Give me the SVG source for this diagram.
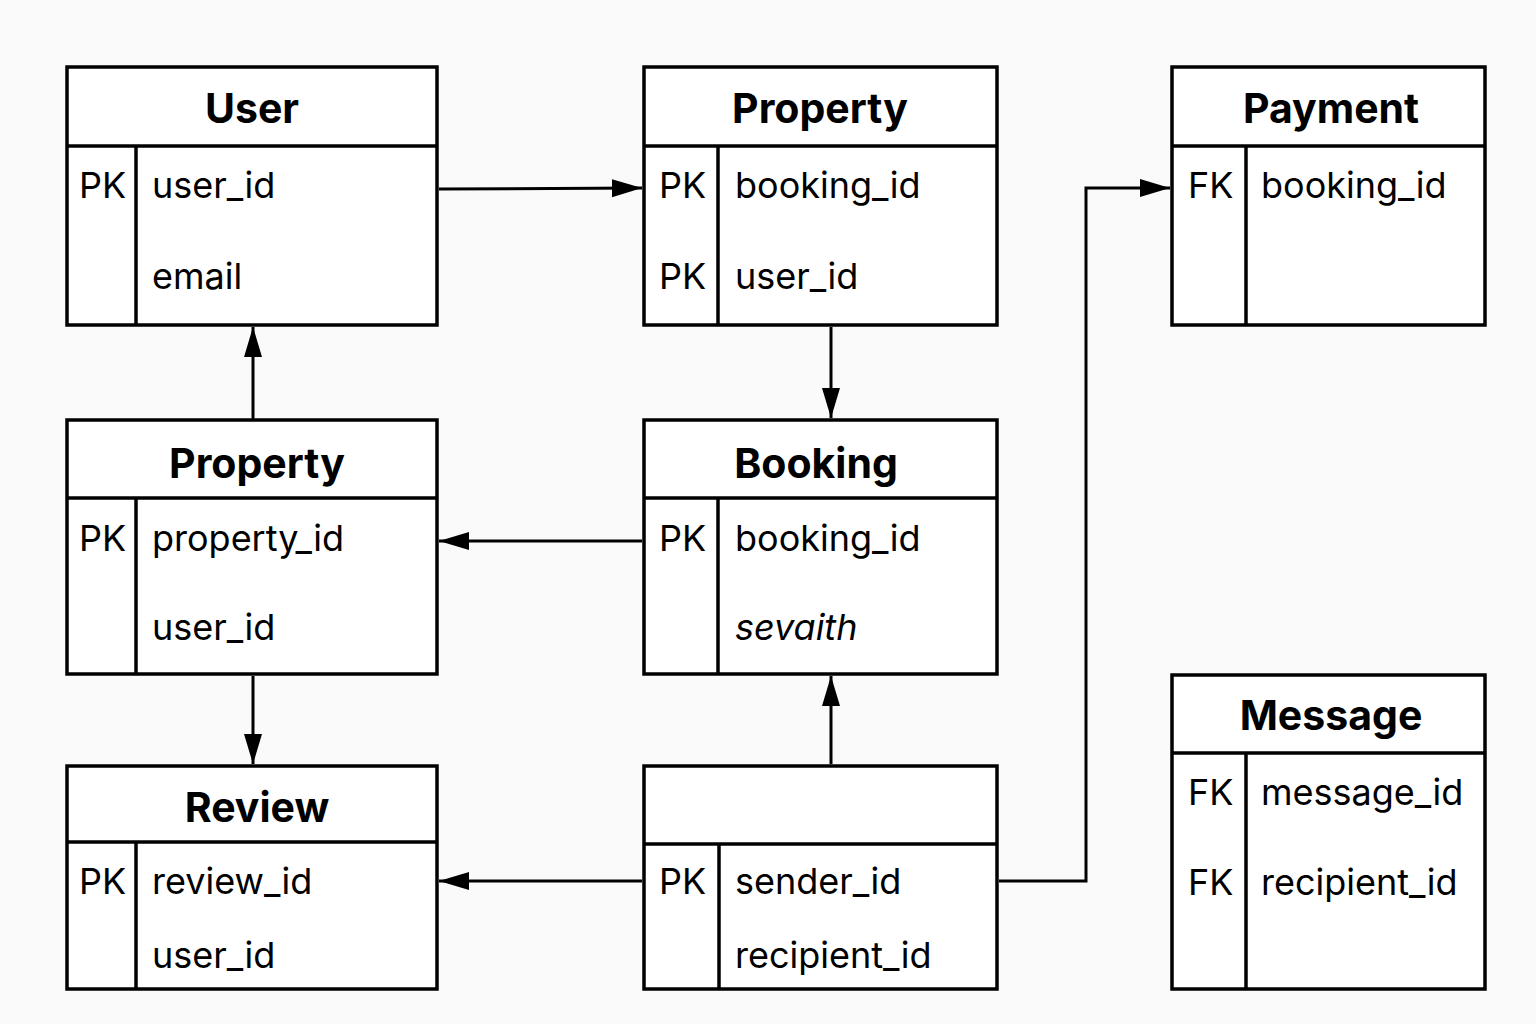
<svg xmlns="http://www.w3.org/2000/svg" width="1536" height="1024" viewBox="0 0 1536 1024">
<style>
.box{fill:#ffffff;stroke:#000;stroke-width:3.5}
.ln{stroke:#000;stroke-width:3.5;fill:none}
.t{font-family:Inter,"Liberation Sans",sans-serif;font-weight:700;font-size:41px;text-anchor:middle;fill:#000}
.f{font-family:Inter,"Liberation Sans",sans-serif;font-size:36px;fill:#000}
.c{stroke:#000;stroke-width:3;fill:none}
</style>
<defs>
<marker id="ah" viewBox="0 0 30 20" refX="30" refY="10" markerWidth="30" markerHeight="20" markerUnits="userSpaceOnUse" orient="auto">
<path d="M0,1 L30,10 L0,19 Z" fill="#000"/>
</marker>
</defs>
<rect width="1536" height="1024" fill="#fafafa"/>
<g id="user">
<rect class="box" x="67" y="67" width="370" height="258"/>
<line class="ln" x1="67" y1="146" x2="437" y2="146"/>
<line class="ln" x1="136" y1="146" x2="136" y2="325"/>
<text class="t" x="252" y="123">User</text>
<text class="f" x="79" y="198">PK</text>
<text class="f" x="152" y="198">user_id</text>
<text class="f" x="152" y="289">email</text>
</g>
<g id="property-top">
<rect class="box" x="644" y="67" width="353" height="258"/>
<line class="ln" x1="644" y1="146" x2="997" y2="146"/>
<line class="ln" x1="718" y1="146" x2="718" y2="325"/>
<text class="t" x="820" y="123">Property</text>
<text class="f" x="659" y="198">PK</text>
<text class="f" x="735" y="198">booking_id</text>
<text class="f" x="659" y="289">PK</text>
<text class="f" x="735" y="289">user_id</text>
</g>
<g id="payment">
<rect class="box" x="1172" y="67" width="313" height="258"/>
<line class="ln" x1="1172" y1="146" x2="1485" y2="146"/>
<line class="ln" x1="1246" y1="146" x2="1246" y2="325"/>
<text class="t" x="1331" y="123">Payment</text>
<text class="f" x="1188" y="198">FK</text>
<text class="f" x="1261" y="198">booking_id</text>
</g>
<g id="property-mid">
<rect class="box" x="67" y="420" width="370" height="254"/>
<line class="ln" x1="67" y1="498" x2="437" y2="498"/>
<line class="ln" x1="136" y1="498" x2="136" y2="674"/>
<text class="t" x="257" y="478">Property</text>
<text class="f" x="79" y="551">PK</text>
<text class="f" x="152" y="551">property_id</text>
<text class="f" x="152" y="640">user_id</text>
</g>
<g id="booking">
<rect class="box" x="644" y="420" width="353" height="254"/>
<line class="ln" x1="644" y1="498" x2="997" y2="498"/>
<line class="ln" x1="718" y1="498" x2="718" y2="674"/>
<text class="t" x="816" y="478">Booking</text>
<text class="f" x="659" y="551">PK</text>
<text class="f" x="735" y="551">booking_id</text>
<text class="f" x="735" y="640" font-style="italic">sevaith</text>
</g>
<g id="review">
<rect class="box" x="67" y="766" width="370" height="223"/>
<line class="ln" x1="67" y1="842" x2="437" y2="842"/>
<line class="ln" x1="136" y1="842" x2="136" y2="989"/>
<text class="t" x="257" y="822">Review</text>
<text class="f" x="79" y="894">PK</text>
<text class="f" x="152" y="894">review_id</text>
<text class="f" x="152" y="968">user_id</text>
</g>
<g id="unnamed">
<rect class="box" x="644" y="766" width="353" height="223"/>
<line class="ln" x1="644" y1="844" x2="997" y2="844"/>
<line class="ln" x1="719" y1="844" x2="719" y2="989"/>
<text class="f" x="659" y="894">PK</text>
<text class="f" x="735" y="894">sender_id</text>
<text class="f" x="735" y="968">recipient_id</text>
</g>
<g id="message">
<rect class="box" x="1172" y="675" width="313" height="314"/>
<line class="ln" x1="1172" y1="753" x2="1485" y2="753"/>
<line class="ln" x1="1246" y1="753" x2="1246" y2="989"/>
<text class="t" x="1331" y="730">Message</text>
<text class="f" x="1188" y="805">FK</text>
<text class="f" x="1261" y="805">message_id</text>
<text class="f" x="1188" y="895">FK</text>
<text class="f" x="1261" y="895">recipient_id</text>
</g>
<g id="connectors">
<path class="c" d="M439,189 L642,188" marker-end="url(#ah)"/>
<path class="c" d="M253,420 L253,327" marker-end="url(#ah)"/>
<path class="c" d="M831,327 L831,418" marker-end="url(#ah)"/>
<path class="c" d="M642,541 L439,541" marker-end="url(#ah)"/>
<path class="c" d="M253,676 L253,764" marker-end="url(#ah)"/>
<path class="c" d="M831,764 L831,676" marker-end="url(#ah)"/>
<path class="c" d="M642,881 L439,881" marker-end="url(#ah)"/>
<path class="c" d="M999,881 L1086,881 L1086,188 L1170,188" marker-end="url(#ah)"/>
</g>
</svg>
